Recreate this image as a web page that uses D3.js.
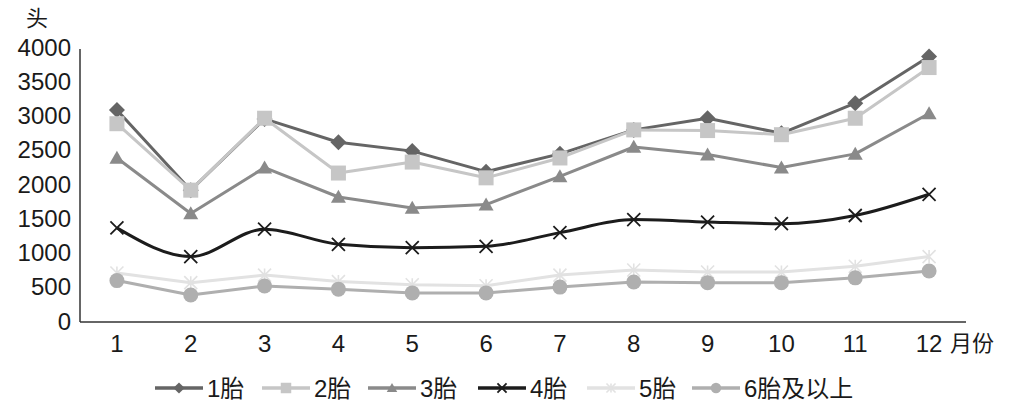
<!DOCTYPE html>
<html><head><meta charset="utf-8">
<script src="https://cdn.jsdelivr.net/npm/d3@7"></script>
<style>
body{margin:0;background:#fff;}
svg text{font-family:"Liberation Sans",Arial,"Noto Sans CJK SC",sans-serif;fill:#1a1a1a;}
</style></head>
<body><svg id="c" width="1015" height="409"></svg>
<script>
const months = ["1","2","3","4","5","6","7","8","9","10","11","12"];
const yTicks = [0,500,1000,1500,2000,2500,3000,3500,4000];
const s1 = [3080,1910,2950,2610,2480,2180,2440,2790,2960,2740,3180,3860];
const s2 = [2880,1910,2960,2160,2320,2090,2380,2790,2780,2720,2960,3700];
const s3 = [2380,1570,2240,1810,1650,1700,2110,2540,2430,2240,2440,3030];
const s4 = [1360,940,1340,1120,1070,1090,1290,1480,1445,1420,1540,1850];
const s5 = [700,560,670,575,530,515,670,745,715,715,800,940];
const s6 = [590,380,510,465,410,410,495,570,560,560,630,730];
const seriesNames = ["1胎","2胎","3胎","4胎","5胎","6胎及以上"];

(function(){
const series = [
  {name:seriesNames[0], values:s1, color:"#656565", marker:"diamond", width:3},
  {name:seriesNames[1], values:s2, color:"#c6c6c6", marker:"square", width:3},
  {name:seriesNames[2], values:s3, color:"#8a8a8a", marker:"triangle", width:3},
  {name:seriesNames[3], values:s4, color:"#1c1c1c", marker:"x", width:3, smooth:true},
  {name:seriesNames[4], values:s5, color:"#e2e2e2", marker:"star", width:3},
  {name:seriesNames[5], values:s6, color:"#afafaf", marker:"circle", width:3}
];

const svg = d3.select("#c");
const pL = 80, pR = 966, pT = 47, pB = 321;
const x = d3.scaleBand().domain(months).range([pL, pR]);
const y = d3.scaleLinear().domain([0,4000]).range([pB, pT]);
const cx = d => x(d) + x.bandwidth()/2;

svg.append("line").attr("x1",pL).attr("x2",pL).attr("y1",49).attr("y2",pB+1)
  .attr("stroke","#333").attr("stroke-width",1.5);
svg.append("line").attr("x1",pL).attr("x2",pR).attr("y1",pB+1).attr("y2",pB+1)
  .attr("stroke","#333").attr("stroke-width",1.5);

svg.selectAll(".yl").data(yTicks).enter().append("text")
  .attr("x",71).attr("y",d=>y(d)).attr("dy","0.36em")
  .attr("text-anchor","end").attr("font-size",24).text(d=>d);
svg.selectAll(".xl").data(months).enter().append("text")
  .attr("x",d=>cx(d)).attr("y",343).attr("dy","0.36em")
  .attr("text-anchor","middle").attr("font-size",24).text(d=>d);
svg.append("text").attr("x",950).attr("y",343).attr("dy","0.36em").attr("font-size",22).text("月份");
svg.append("text").attr("x",37).attr("y",18).attr("dy","0.36em").attr("text-anchor","middle").attr("font-size",22).text("头");

function drawMarker(g, type, px, py, color, s){
  s = s || 1;
  if(type==="diamond"){
    const r=8*s;
    g.append("path").attr("d",`M${px},${py-r}L${px+r},${py}L${px},${py+r}L${px-r},${py}Z`).attr("fill",color);
  } else if(type==="square"){
    g.append("rect").attr("x",px-7.5*s).attr("y",py-7.5*s).attr("width",15*s).attr("height",15*s).attr("fill",color);
  } else if(type==="triangle"){
    const h=13*s, w=15*s;
    g.append("path").attr("d",`M${px},${py-h*0.55}L${px+w/2},${py+h*0.45}L${px-w/2},${py+h*0.45}Z`).attr("fill",color);
  } else if(type==="x"){
    const r=6.5*s;
    g.append("path").attr("d",`M${px-r},${py-r}L${px+r},${py+r}M${px-r},${py+r}L${px+r},${py-r}`).attr("stroke",color).attr("stroke-width",1.8).attr("fill","none");
  } else if(type==="star"){
    const r=6.5*s;
    g.append("path").attr("d",`M${px-r},${py-r}L${px+r},${py+r}M${px-r},${py+r}L${px+r},${py-r}M${px},${py-r}L${px},${py+r}`).attr("stroke",color).attr("stroke-width",1.6).attr("fill","none");
  } else if(type==="circle"){
    g.append("circle").attr("cx",px).attr("cy",py).attr("r",7.5*s).attr("fill",color);
  }
}

[0,1,2,3,4,5].forEach(i=>{
  const s = series[i];
  const g = svg.append("g");
  const line = d3.line().x((d,j)=>cx(months[j])).y(d=>y(d))
    .curve(s.smooth ? d3.curveMonotoneX : d3.curveLinear);
  g.append("path").attr("d",line(s.values)).attr("fill","none")
    .attr("stroke",s.color).attr("stroke-width",s.width).attr("stroke-linejoin","round");
  s.values.forEach((v,j)=>drawMarker(g, s.marker, cx(months[j]), y(v), s.color, 1));
});

const legX = [155,262,368,478,587,692];
const legY = 388;
series.forEach((s,i)=>{
  const g = svg.append("g");
  const lx = legX[i];
  g.append("line").attr("x1",lx).attr("x2",lx+48).attr("y1",legY).attr("y2",legY)
    .attr("stroke",s.color).attr("stroke-width",3.5);
  drawMarker(g, s.marker, lx+24, legY, s.color, 0.7);
  g.append("text").attr("x",lx+52).attr("y",legY).attr("dy","0.36em").attr("font-size",24).text(s.name);
});
})();
</script></body></html>
